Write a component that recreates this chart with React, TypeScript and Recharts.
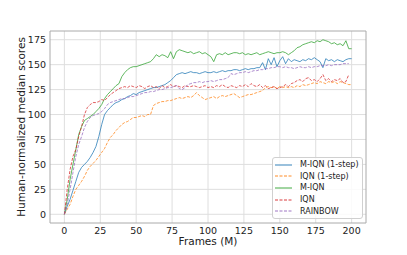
import { ComposedChart, Line, XAxis, YAxis, CartesianGrid, ReferenceArea, Legend, Label } from "recharts";

// frames in millions, one sample every 2M
const FRAMES = [
  0, 2, 4, 6, 8, 10, 12, 14, 16, 18, 20, 22, 24, 26, 28, 30, 32, 34, 36, 38,
  40, 42, 44, 46, 48, 50, 52, 54, 56, 58, 60, 62, 64, 66, 68, 70, 72, 74, 76, 78,
  80, 82, 84, 86, 88, 90, 92, 94, 96, 98, 100, 102, 104, 106, 108, 110, 112, 114, 116, 118,
  120, 122, 124, 126, 128, 130, 132, 134, 136, 138, 140, 142, 144, 146, 148, 150, 152, 154, 156, 158,
  160, 162, 164, 166, 168, 170, 172, 174, 176, 178, 180, 182, 184, 186, 188, 190, 192, 194, 196, 198, 200,
];

const M_IQN_1STEP = [
  0, 8, 15, 24, 33, 42, 47, 50, 53, 57, 62, 68, 78, 90, 100, 104, 107, 110, 112, 113,
  115, 116, 118, 119, 121, 120, 122, 123, 124, 125, 126, 127, 127, 128, 129, 130, 132, 134, 137, 140,
  141, 142, 141, 142, 143, 142, 142, 141, 142, 143, 142, 142, 143, 142, 143, 144, 143, 144, 144, 145,
  145, 144, 145, 146, 145, 146, 146, 147, 147, 152, 145, 156, 150, 157, 148, 154, 158, 151, 156, 153,
  155, 154, 153, 155, 154, 156, 155, 157, 155, 153, 147, 156, 154, 155, 153, 155, 154, 153, 155, 156, 156,
];

const IQN_1STEP = [
  0, 5, 10, 18, 25, 29, 33, 38, 44, 48, 51, 54, 58, 62, 66, 72, 77, 80, 84, 87,
  90, 92, 93, 95, 97, 97, 98, 99, 98, 100, 100, 109, 111, 112, 113, 113, 114, 114, 115, 116,
  117, 116, 117, 118, 117, 119, 122, 119, 117, 115, 116, 117, 118, 116, 118, 119, 118, 119, 120, 121,
  119, 117, 118, 119, 120, 120, 121, 122, 123, 124, 127, 128, 127, 128, 126, 128, 127, 128, 127, 128,
  127, 129, 128, 130, 129, 130, 131, 132, 131, 133, 132, 131, 133, 132, 133, 131, 133, 132, 131, 130, 130,
];

const M_IQN = [
  0, 15, 35, 50, 65, 80, 88, 94, 96, 98, 100, 103, 106, 110, 116, 120, 123, 126, 129, 131,
  138, 142, 145, 147, 148, 148, 149, 150, 151, 152, 153, 156, 160, 158, 160, 159, 157, 163, 156, 163,
  165, 164, 163, 162, 163, 161, 162, 163, 161, 162, 160, 158, 153, 160, 161, 160, 162, 160, 161, 162,
  162, 161, 162, 160, 161, 160, 161, 162, 160, 161, 162, 163, 162, 161, 162, 162, 163, 162, 160, 162,
  164, 167, 168, 170, 171, 172, 173, 172, 174, 173, 175, 174, 173, 171, 172, 170, 171, 169, 174, 166, 166,
];

const IQN = [
  0, 25, 45, 58, 65, 78, 88, 100, 107, 110, 112, 112, 113, 115, 114, 117, 120, 122, 124, 126,
  127, 128, 127, 129, 128, 127, 129, 128, 126, 128, 129, 127, 128, 126, 129, 127, 128, 130, 128, 129,
  128, 127, 129, 128, 128, 129, 128, 127, 128, 129, 127, 128, 127, 129, 128, 130, 128, 127, 129, 128,
  127, 129, 128, 130, 128, 131, 129, 128, 130, 127, 129, 126, 127, 128, 126, 127, 128, 130, 128, 131,
  132, 134, 135, 133, 136, 137, 134, 135, 133, 136, 140, 134, 136, 133, 135, 134, 136, 132, 133, 140, null,
];

const RAINBOW = [
  0, 10, 25, 42, 58, 70, 78, 87, 93, 97, 99, 100, 101, 103, 106, 110, 112, 113, 114, 115,
  116, 116, 117, 118, 118, 119, 120, 121, 122, 122, 123, 123, 124, 125, 125, 126, 127, 127, 128, 129,
  126, 125, 127, 130, 131, 132, 132, 133, 132, 133, 133, 134, 133, 134, 135, 135, 136, 137, 141, 140,
  141, 142, 142, 143, 142, 143, 144, 144, 145, 145, 146, 146, 147, 147, 148, 148, 147, 148, 147, 147,
  146, 147, 148, 147, 147, 148, 147, 148, 148, 149, 149, 149, 150, 149, 150, 150, 150, 151, 151, 151, null,
];

const X_TICKS = [0, 25, 50, 75, 100, 125, 150, 175, 200];
const Y_TICKS = [0, 25, 50, 75, 100, 125, 150, 175];

const SERIES = [
  { key: "mIqn1", name: "M-IQN (1-step)", values: M_IQN_1STEP, color: "#1f77b4", dash: undefined },
  { key: "iqn1", name: "IQN (1-step)", values: IQN_1STEP, color: "#ff7f0e", dash: "3 1.5" },
  { key: "mIqn", name: "M-IQN", values: M_IQN, color: "#2ca02c", dash: undefined },
  { key: "iqn", name: "IQN", values: IQN, color: "#d62728", dash: "3 1.5" },
  { key: "rainbow", name: "RAINBOW", values: RAINBOW, color: "#9467bd", dash: "3 1.5" },
];

const data = FRAMES.map((f, i) => {
  const row: Record<string, number | null> = { frames: f };
  SERIES.forEach((s) => { row[s.key] = s.values[i]; });
  return row;
});

const FONT = "'DejaVu Sans', sans-serif";

const LegendBox = () => (
  <div style={{
    width: 91, height: 62, boxSizing: "border-box", background: "rgba(255,255,255,0.85)",
    border: "1px solid #d0d0d0", borderRadius: 3, paddingTop: 1, fontFamily: FONT, fontSize: 8, color: "#222",
  }}>
    {SERIES.map((s) => (
      <div key={s.key} style={{ height: 11.6, display: "flex", alignItems: "center" }}>
        <svg width={17} height={4} style={{ marginLeft: 2, marginRight: 8 }}>
          <line x1={0} y1={2} x2={17} y2={2} stroke={s.color} strokeWidth={0.9} strokeDasharray={s.dash} />
        </svg>
        <span style={{ whiteSpace: "nowrap" }}>{s.name}</span>
      </div>
    ))}
  </div>
);

export default function App() {
  return (
    <div style={{ position: "absolute", left: 0, top: 0, width: 407, height: 255, background: "#fff" }}>
      <ComposedChart width={407} height={255} data={data} margin={{ top: 31, right: 41, bottom: 0, left: 0 }}>
        <CartesianGrid stroke="#dedede" strokeWidth={1} horizontalValues={Y_TICKS} verticalValues={X_TICKS} />
        <XAxis dataKey="frames" type="number" domain={[-10, 210]} ticks={X_TICKS} height={32}
          axisLine={false} tickLine={false} tickSize={0} tickMargin={4}
          tick={{ fontSize: 9.5, fill: "#222", fontFamily: FONT }}>
          <Label content={() => (
            <text x={208} y={245} textAnchor="middle" fontSize={10.5} fill="#222" fontFamily={FONT}>Frames (M)</text>
          )} />
        </XAxis>
        <YAxis type="number" domain={[-8.75, 183.75]} ticks={Y_TICKS} width={50}
          axisLine={false} tickLine={false} tickSize={0} tickMargin={4}
          tick={{ fontSize: 9.5, fill: "#222", fontFamily: FONT }}>
          <Label content={() => (
            <text x={0} y={0} transform="translate(25,127) rotate(-90)" textAnchor="middle" fontSize={10.5} fill="#222" fontFamily={FONT}>
              Human-normalized median scores
            </text>
          )} />
        </YAxis>
        <ReferenceArea x1={-10} x2={210} y1={-8.75} y2={183.75} fill="none" stroke="#aaaaaa" strokeWidth={1} />
        {SERIES.map((s) => (
          <Line key={s.key} dataKey={s.key} name={s.name} type="linear" stroke={s.color}
            strokeWidth={0.75} strokeDasharray={s.dash} dot={false} isAnimationActive={false} connectNulls={false} />
        ))}
        <Legend layout="vertical" align="center" verticalAlign="middle" content={() => <LegendBox />}
          wrapperStyle={{ position: "absolute", left: 272, top: 157, width: 91, height: 62 }} />
      </ComposedChart>
    </div>
  );
}
